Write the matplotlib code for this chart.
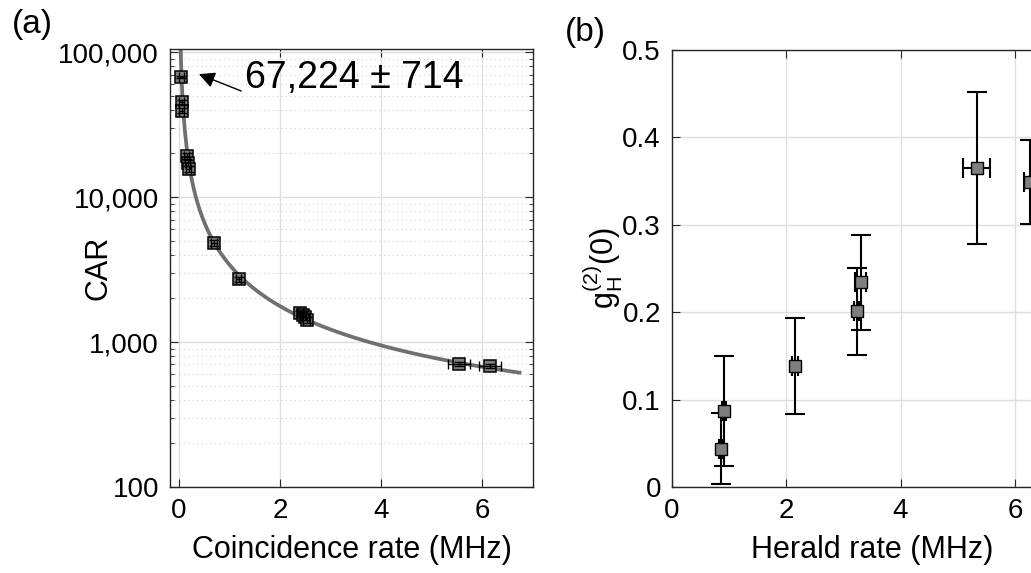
import numpy as np
import matplotlib
matplotlib.use("Agg")
import matplotlib.pyplot as plt
from matplotlib.ticker import FixedLocator, FuncFormatter, LogLocator, NullFormatter

plt.rcParams['font.family'] = ['Liberation Sans', 'DejaVu Sans']
plt.rcParams['mathtext.fontset'] = 'custom'
plt.rcParams['mathtext.rm'] = 'Liberation Sans'
plt.rcParams['mathtext.it'] = 'Liberation Sans'

# (a) CAR vs coincidence rate
coinc_rate = [0.04, 0.05, 0.05, 0.15, 0.17, 0.19, 0.69, 1.18, 2.39, 2.45, 2.50, 2.52, 5.54, 6.15]
coinc_xerr = [0.05, 0.05, 0.05, 0.05, 0.05, 0.05, 0.06, 0.05, 0.06, 0.06, 0.06, 0.06, 0.22, 0.22]
car = [67224, 45000, 39500, 19200, 17200, 15600, 4820, 2715, 1585, 1540, 1480, 1420, 705, 683]
car_err = [714, 1800, 1600, 900, 800, 700, 200, 110, 60, 60, 60, 60, 25, 25]

# fitted CAR = A / R + B
fit_A = 3270.0
fit_B = 129.0
fit_rmin, fit_rmax = 0.02, 6.77

# (b) heralded g2 vs herald rate
herald_rate = [0.86, 0.91, 2.15, 3.23, 3.30, 5.33, 6.26]
herald_xerr = [0.03, 0.03, 0.05, 0.04, 0.10, 0.24, 0.10]
g2 = [0.044, 0.087, 0.138, 0.201, 0.234, 0.365, 0.349]
g2_err = [0.041, 0.063, 0.055, 0.050, 0.054, 0.087, 0.048]

spine_col = '#262626'
grid_col = '#dfdfdf'
mk_face = '#7f7f7f'

fig = plt.figure(figsize=(10.31, 5.73), dpi=100)
ax1 = fig.add_axes([170 / 1031, 1 - 487 / 573, 363 / 1031, 438 / 573])
ax2 = fig.add_axes([672 / 1031, 1 - 487 / 573, 400 / 1031, 437 / 573])

# ---- panel (a)
r = np.linspace(fit_rmin, fit_rmax, 400)
ax1.plot(r, fit_A / r + fit_B, color='#707070', lw=2.7, zorder=2, solid_capstyle='butt')
ax1.plot(coinc_rate, car, 's', ms=8.5, mfc=mk_face, mec='k', mew=1.1, zorder=3)
ax1.errorbar(coinc_rate, car, xerr=coinc_xerr, yerr=car_err, fmt='none',
             ecolor='k', elinewidth=1.0, capsize=3.5, capthick=1.0, zorder=4)

ax1.set_yscale('log')
ax1.set_xlim(-0.18, 7)
ax1.set_ylim(100, 1.05e5)
ax1.set_xticks([0, 2, 4, 6])
ax1.yaxis.set_major_locator(FixedLocator([100, 1000, 10000, 100000]))
ax1.yaxis.set_major_formatter(FuncFormatter(lambda v, p: f'{int(round(v)):,}'))
ax1.yaxis.set_minor_locator(LogLocator(base=10, subs=np.arange(2, 10)))
ax1.yaxis.set_minor_formatter(NullFormatter())
ax1.grid(True, which='major', color=grid_col, lw=1.0)
ax1.grid(True, which='minor', axis='y', color='#cfcfcf', lw=0.8, ls=(0, (1, 3)))
ax1.set_axisbelow(True)
ax1.set_xlabel('Coincidence rate (MHz)', fontsize=22, labelpad=8)
ax1.set_ylabel('CAR', fontsize=22)
ax1.yaxis.set_label_coords(-0.155, 0.5)

ax1.annotate('', xy=(0.34, 71600), xytext=(1.28, 53000),
             arrowprops=dict(arrowstyle='-|>', color='k', lw=1.0, mutation_scale=24))
ax1.text(1.3, 66000, '67,224 \u00b1 714', fontsize=27, va='center', ha='left')

# ---- panel (b)
ax2.plot(herald_rate, g2, 's', ms=8.5, mfc=mk_face, mec='k', mew=1.0, zorder=4)
ax2.errorbar(herald_rate, g2, xerr=herald_xerr, yerr=g2_err, fmt='none',
             ecolor='k', elinewidth=1.5, capsize=7, capthick=1.5, zorder=3)
ax2.set_xlim(0, 7)
ax2.set_ylim(0, 0.5)
ax2.set_xticks([0, 2, 4, 6])
ax2.set_yticks([0, 0.1, 0.2, 0.3, 0.4, 0.5])
ax2.yaxis.set_major_formatter(FuncFormatter(lambda v, p: '0' if v == 0 else f'{v:.1f}'))
ax2.grid(True, color=grid_col, lw=1.0)
ax2.set_axisbelow(True)
ax2.set_xlabel('Herald rate (MHz)', fontsize=22, labelpad=8)
ax2.set_ylabel(r'$\mathregular{g_H^{(2)}(0)}$', fontsize=22)
ax2.yaxis.set_label_coords(-0.118, 0.5)

for ax in (ax1, ax2):
    for s in ax.spines.values():
        s.set_color(spine_col)
        s.set_linewidth(1.0)
    ax.tick_params(which='both', direction='in', top=True, right=True,
                   colors=spine_col, labelcolor='k', labelsize=20)
    ax.tick_params(which='major', length=6, pad=8)
    ax.tick_params(which='minor', length=3)

fig.text(12 / 1031, 1 - 25 / 573, '(a)', fontsize=24, va='center', ha='left')
fig.text(565 / 1031, 1 - 32 / 573, '(b)', fontsize=24, va='center', ha='left')

fig.savefig('out.png', dpi=100)
